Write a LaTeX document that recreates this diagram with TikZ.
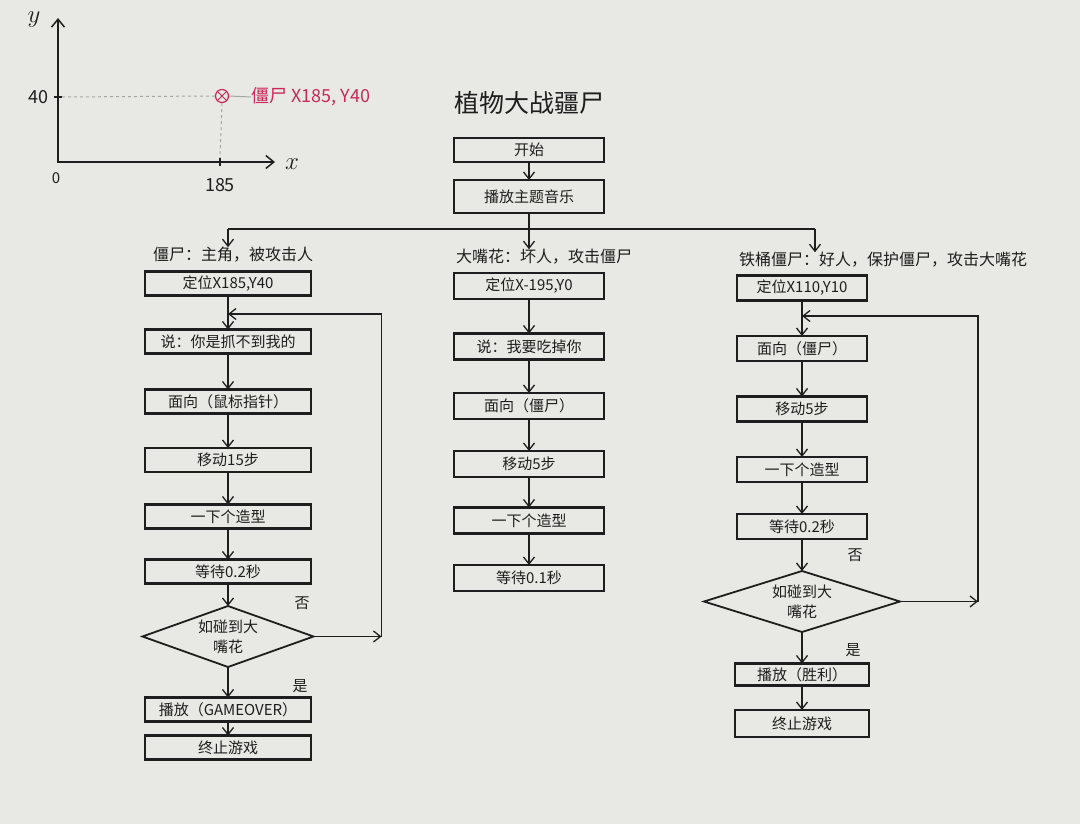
\documentclass[tikz,border=0pt]{standalone}
\usepackage{fontspec}
\setmainfont{Noto Sans CJK SC}
\usepackage{tikz}
\usetikzlibrary{arrows.meta, positioning, shapes.geometric}
\definecolor{paper}{RGB}{232,232,228}
\definecolor{ink}{RGB}{30,30,30}
\definecolor{zred}{RGB}{205,40,90}
\definecolor{guide}{RGB}{165,165,165}

\begin{document}
\begin{tikzpicture}[
    x=1pt, y=-1pt,
    node distance=33pt,
    stepbox/.style={draw=ink, line width=2.6pt, fill=paper, inner sep=0pt, outer sep=0pt, minimum height=24pt, align=center, text=ink, font=\fontsize{15}{18}\selectfont},
    check/.style={diamond, aspect=3, draw=ink, line width=1.8pt, fill=paper, inner sep=0pt, outer sep=0pt, align=center, text=ink, font=\fontsize{15}{20}\selectfont},
    rolecap/.style={anchor=west, inner sep=0pt, text=ink, font=\fontsize{16}{18}\selectfont},
    note/.style={inner sep=0pt, text=ink, font=\fontsize{15}{18}\selectfont},
    arr/.style={-{Straight Barb[length=7pt, width=11pt]}, line width=1.3pt, color=ink},
    line/.style={line width=1.3pt, color=ink},
    axis/.style={{Straight Barb[length=8pt, width=13pt]}-{Straight Barb[length=8pt, width=13pt]}, line width=1.5pt, color=ink},
    guide/.style={dashed, line width=1pt, color=guide}
  ]
  \fill[paper] (0,0) rectangle (1080,824);
  \useasboundingbox (0,0) rectangle (1080,824);

  % coordinate sketch, top left
  \coordinate (ytop) at (58,18);
  \coordinate (origin) at (58,162);
  \coordinate (xend) at (275,162);
  \draw[axis] (ytop) -- (origin) -- (xend);
  \node[note, font=\fontsize{24}{24}\selectfont] (ylab) at (34,20) {$y$};
  \node[note, font=\fontsize{24}{24}\selectfont] (xlab) at (292,164) {$x$};
  \node[note] (zero) at (56,178) {0};
  \node[note, font=\fontsize{18}{18}\selectfont] (ylev) at (38,97) {40};
  \node[note, font=\fontsize{18}{18}\selectfont] (xlev) at (220,185) {185};
  \draw[line] (54,97) -- (62,97);
  \draw[line] (220,158) -- (220,166);
  \node[circle, draw=zred, line width=1.2pt, minimum size=13pt, inner sep=0pt] (zmark) at (222,96) {};
  \draw[zred, line width=1pt] (zmark.north west) -- (zmark.south east);
  \draw[zred, line width=1pt] (zmark.north east) -- (zmark.south west);
  \node[anchor=west, inner sep=0pt, text=zred, font=\fontsize{18}{18}\selectfont] (zlab) at (251,97) {僵尸 X185, Y40};
  \draw[guide] (62,97) -- (zmark.west);
  \draw[guide] (zmark.south) -- (220,158);
  \draw[guide, solid] (zmark.east) -- (zlab.west);

  % title and common start
  \node[note, font=\fontsize{25}{28}\selectfont] (title) at (529,103) {植物大战疆尸};
  \node[stepbox, minimum width=150pt, minimum height=24pt] (start) at (529,150) {开始};
  \node[stepbox, minimum width=150pt, minimum height=33pt, below=18pt of start] (music) {播放主题音乐};
  \draw[arr] (start) -- (music);
  \coordinate (split) at (529,229);
  \coordinate (lsplit) at (228,229);
  \coordinate (rsplit) at (815,229);
  \draw[line] (music.south) -- (split);
  \draw[line] (lsplit) -- (rsplit);

  % left column: zombie
  \node[rolecap] (lcap) at (153,255) {僵尸：主角，被攻击人};
  \node[stepbox, minimum width=166pt] (lpos) at (228,283.5) {定位X185,Y40};
  \node[stepbox, minimum width=166pt, below=34pt of lpos] (lsay) {说：你是抓不到我的};
  \node[stepbox, minimum width=166pt, below=36pt of lsay] (lface) {面向（鼠标指针）};
  \node[stepbox, minimum width=166pt, below=34.5pt of lface] (lmove) {移动15步};
  \node[stepbox, minimum width=166pt, below=32.5pt of lmove] (lcos) {一下个造型};
  \node[stepbox, minimum width=166pt, below=31pt of lcos] (lwait) {等待0.2秒};
  \node[check, minimum width=171pt, minimum height=61pt, below=22.5pt of lwait] (ldec) {如碰到大\\嘴花};
  \node[stepbox, minimum width=166pt, below=30.5pt of ldec] (lplay) {播放（GAMEOVER）};
  \node[stepbox, minimum width=166pt, below=14pt of lplay] (lstop) {终止游戏};
  \draw[arr] (lsplit) -- (lsplit |- lcap.north);
  \draw[arr] (lpos) -- (lsay);
  \draw[arr] (lsay) -- (lface);
  \draw[arr] (lface) -- (lmove);
  \draw[arr] (lmove) -- (lcos);
  \draw[arr] (lcos) -- (lwait);
  \draw[arr] (lwait) -- (ldec);
  \draw[arr] (ldec) -- (lplay);
  \draw[arr] (lplay) -- (lstop);
  \coordinate (lback) at (228,314);
  \draw[arr] (ldec.east) -- ++(68,0) coordinate (lturn);
  \draw[arr] (lturn) |- (lback);
  \node[note] (lno) at (302,603) {否};
  \node[note] (lyes) at (300,686) {是};

  % middle column: big-mouth flower
  \node[rolecap] (mcap) at (456,257) {大嘴花：坏人，攻击僵尸};
  \node[stepbox, minimum width=150pt, minimum height=26pt] (mpos) at (529,286) {定位X-195,Y0};
  \node[stepbox, minimum width=150pt, minimum height=26pt, below=34.5pt of mpos] (msay) {说：我要吃掉你};
  \node[stepbox, minimum width=150pt, minimum height=26pt, below=33.5pt of msay] (mface) {面向（僵尸）};
  \node[stepbox, minimum width=150pt, minimum height=26pt, below=32pt of mface] (mmove) {移动5步};
  \node[stepbox, minimum width=150pt, minimum height=26pt, below=30.5pt of mmove] (mcos) {一下个造型};
  \node[stepbox, minimum width=150pt, minimum height=26pt, below=31.5pt of mcos] (mwait) {等待0.1秒};
  \draw[arr] (split) -- (split |- mcap.north);
  \draw[arr] (mpos) -- (msay);
  \draw[arr] (msay) -- (mface);
  \draw[arr] (mface) -- (mmove);
  \draw[arr] (mmove) -- (mcos);
  \draw[arr] (mcos) -- (mwait);

  % right column: bucket zombie
  \node[rolecap] (rcap) at (739,260) {铁桶僵尸：好人，保护僵尸，攻击大嘴花};
  \node[stepbox, minimum width=130pt, minimum height=25pt] (rpos) at (802,288) {定位X110,Y10};
  \node[stepbox, minimum width=130pt, minimum height=25pt, below=35.5pt of rpos] (rface) {面向（僵尸）};
  \node[stepbox, minimum width=130pt, minimum height=25pt, below=35.5pt of rface] (rmove) {移动5步};
  \node[stepbox, minimum width=130pt, minimum height=25pt, below=35.5pt of rmove] (rcos) {一下个造型};
  \node[stepbox, minimum width=130pt, minimum height=25pt, below=32pt of rcos] (rwait) {等待0.2秒};
  \node[check, minimum width=196pt, minimum height=61pt, below=32pt of rwait] (rdec) {如碰到大\\嘴花};
  \node[stepbox, minimum width=134pt, minimum height=22pt, below=31.5pt of rdec] (rplay) {播放（胜利）};
  \node[stepbox, minimum width=134pt, minimum height=27pt, below=24.5pt of rplay] (rstop) {终止游戏};
  \draw[arr] (rsplit) -- (rsplit |- rcap.north);
  \draw[arr] (rpos) -- (rface);
  \draw[arr] (rface) -- (rmove);
  \draw[arr] (rmove) -- (rcos);
  \draw[arr] (rcos) -- (rwait);
  \draw[arr] (rwait) -- (rdec);
  \draw[arr] (rdec) -- (rplay);
  \draw[arr] (rplay) -- (rstop);
  \coordinate (rback) at (802,316);
  \draw[arr] (rdec.east) -- ++(78,0) coordinate (rturn);
  \draw[arr] (rturn) |- (rback);
  \node[note] (rno) at (855,555) {否};
  \node[note] (ryes) at (853,650) {是};
\end{tikzpicture}
\end{document}
